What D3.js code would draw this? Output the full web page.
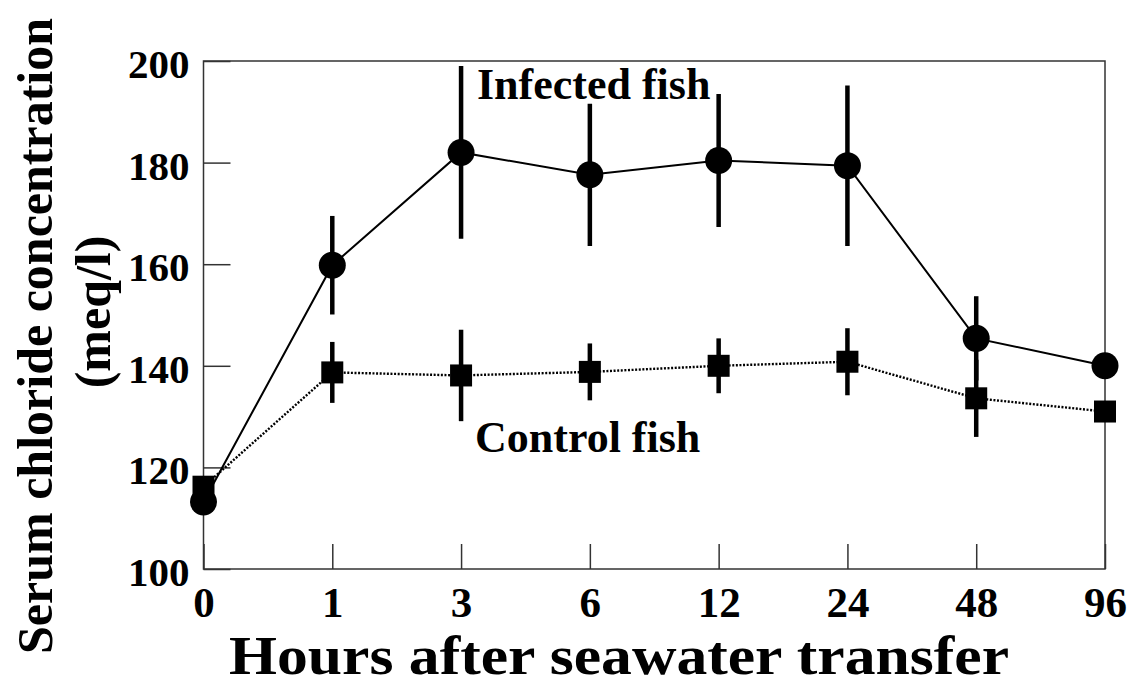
<!DOCTYPE html>
<html>
<head>
<meta charset="utf-8">
<script src="https://cdn.jsdelivr.net/npm/d3@7"></script>
<style>
  body { margin: 0; background: #fff; }
  svg { display: block; }
  text { font-family: "Liberation Serif", "Times New Roman", serif; font-weight: bold; fill: #000; }
</style>
</head>
<body>
<div id="chart"></div>
<script>
// data
const hours = ["0", "1", "3", "6", "12", "24", "48", "96"];
const infectedMean = [113.2, 159.8, 182.0, 177.6, 180.4, 179.4, 145.4, 140.0];
const infectedErr = [2, 9.7, 17.0, 14.0, 13.1, 15.8, 8.3, 2];
const controlMean = [116.2, 138.7, 138.1, 138.8, 140.0, 140.8, 133.6, 131.0];
const controlErr = [2, 6.0, 9.0, 5.6, 5.4, 6.6, 7.6, 1.5];
const yTicks = [100, 120, 140, 160, 180, 200];

const width = 1128, height = 685;
const margin = {left: 203.5, right: 23, top: 61, bottom: 116};

const svg = d3.select("#chart").append("svg")
    .attr("width", width)
    .attr("height", height);

const x = d3.scalePoint()
    .domain(hours)
    .range([margin.left, width - margin.right]);

const y = d3.scaleLinear()
    .domain([100, 200])
    .range([height - margin.bottom, margin.top]);

// frame
svg.append("rect")
    .attr("x", x.range()[0])
    .attr("y", y(200))
    .attr("width", x.range()[1] - x.range()[0])
    .attr("height", y(100) - y(200))
    .attr("fill", "none")
    .attr("stroke", "#333")
    .attr("stroke-width", 1.5);

// axes, ticks pointing inward
const yAxis = svg.append("g")
    .attr("transform", `translate(${margin.left},0)`)
    .call(d3.axisLeft(y).tickValues(yTicks).tickSize(-27).tickPadding(14));

const xAxis = svg.append("g")
    .attr("transform", `translate(0,${y(100)})`)
    .call(d3.axisBottom(x).tickSize(-25).tickPadding(17));

[yAxis, xAxis].forEach(g => {
    g.select(".domain").remove();
    g.selectAll(".tick line").attr("stroke", "#333").attr("stroke-width", 1.5);
    g.selectAll(".tick text")
        .attr("font-family", "Liberation Serif, serif")
        .attr("font-weight", "bold")
        .attr("fill", "#000");
});
yAxis.selectAll(".tick text").attr("font-size", 41).attr("dy", "0.4em");
xAxis.selectAll(".tick text").attr("font-size", 43);

// series
const series = [
    {name: "infected", mean: infectedMean, err: infectedErr, dash: null, width: 2},
    {name: "control", mean: controlMean, err: controlErr, dash: "2,1.6", width: 2.4}
];

series.forEach(s => {
    const pts = hours.map((h, i) => ({h, v: s.mean[i], e: s.err[i]}));
    const g = svg.append("g").attr("class", s.name);

    g.selectAll("line.err")
        .data(pts)
        .join("line")
        .attr("class", "err")
        .attr("x1", d => x(d.h)).attr("x2", d => x(d.h))
        .attr("y1", d => y(d.v - d.e)).attr("y2", d => y(d.v + d.e))
        .attr("stroke", "#000")
        .attr("stroke-width", 4.5);

    g.append("path")
        .datum(pts)
        .attr("fill", "none")
        .attr("stroke", "#000")
        .attr("stroke-width", s.width)
        .attr("stroke-dasharray", s.dash)
        .attr("d", d3.line().x(d => x(d.h)).y(d => y(d.v)));
});

// markers
svg.append("g")
    .selectAll("rect")
    .data(hours.map((h, i) => ({h, v: controlMean[i]})))
    .join("rect")
    .attr("x", d => x(d.h) - 11)
    .attr("y", d => y(d.v) - 11)
    .attr("width", 22)
    .attr("height", 22)
    .attr("fill", "#000");

svg.append("g")
    .selectAll("circle")
    .data(hours.map((h, i) => ({h, v: infectedMean[i]})))
    .join("circle")
    .attr("cx", d => x(d.h))
    .attr("cy", d => y(d.v))
    .attr("r", 13.5)
    .attr("fill", "#000");

// series labels
svg.append("text")
    .attr("x", 477).attr("y", 99)
    .attr("font-size", 44)
    .text("Infected fish");

svg.append("text")
    .attr("x", 475).attr("y", 452)
    .attr("font-size", 44)
    .text("Control fish");

// axis titles
svg.append("text")
    .attr("x", 619)
    .attr("y", 674)
    .attr("text-anchor", "middle")
    .attr("font-size", 55)
    .attr("textLength", 780)
    .attr("lengthAdjust", "spacingAndGlyphs")
    .text("Hours after seawater transfer");

const yTitle = svg.append("text")
    .attr("transform", `translate(52,336) rotate(-90)`)
    .attr("text-anchor", "middle")
    .attr("font-size", 50);
yTitle.append("tspan").attr("x", 0).attr("y", 0).text("Serum chloride concentration");
yTitle.append("tspan").attr("x", 24).attr("y", 58).text("(meq/l)");
</script>
</body>
</html>
